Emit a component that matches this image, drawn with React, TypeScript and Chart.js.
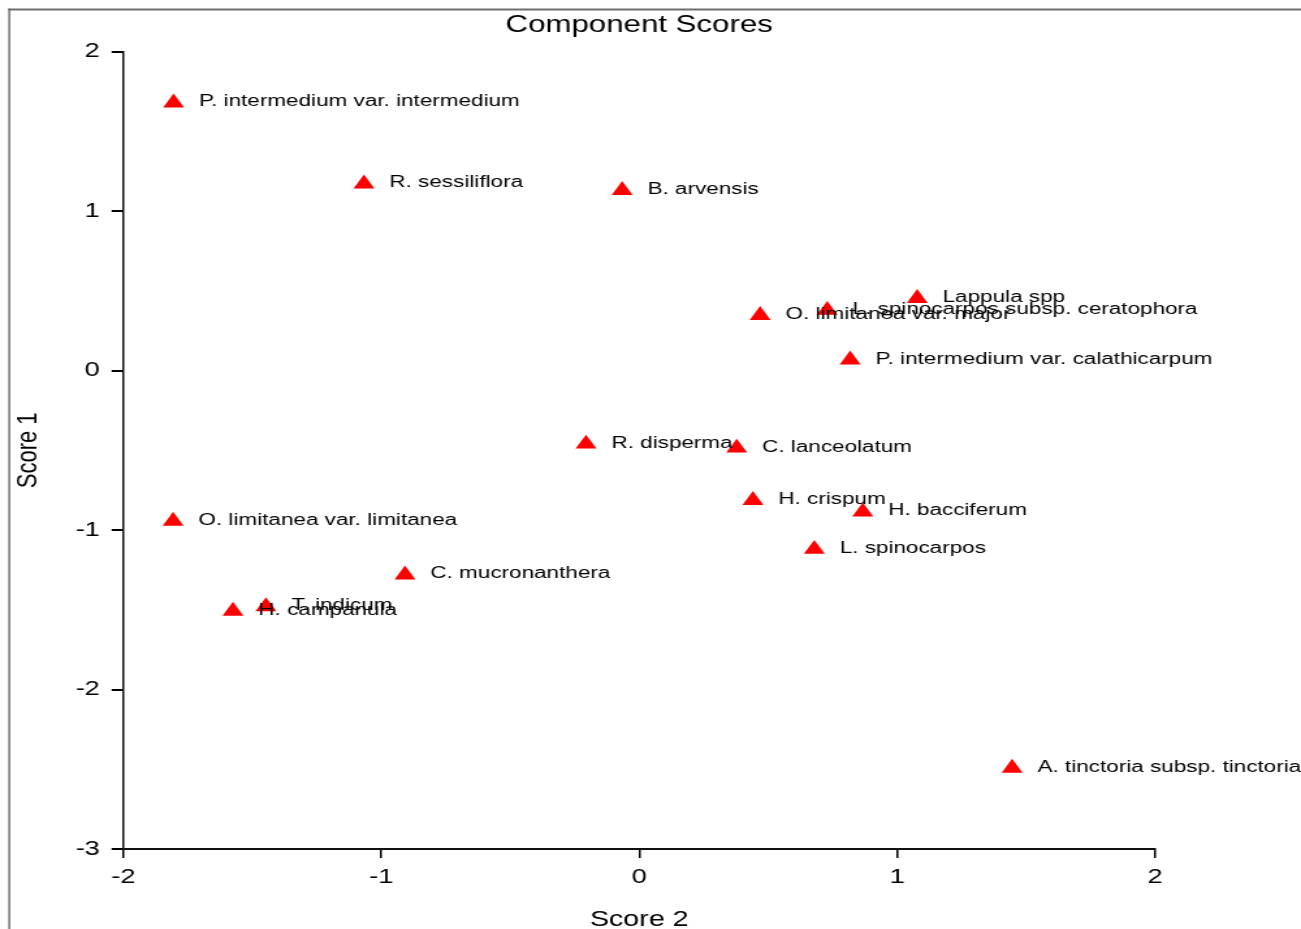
import React, { useEffect, useRef } from 'react';
import { Chart, registerables } from 'chart.js';

Chart.register(...registerables);

// ---- Data ----
const speciesNames = [
  'P. intermedium var. intermedium',
  'R. sessiliflora',
  'B. arvensis',
  'Lappula spp',
  'L. spinocarpos subsp. ceratophora',
  'O. limitanea var. major',
  'P. intermedium var. calathicarpum',
  'R. disperma',
  'C. lanceolatum',
  'H. crispum',
  'H. bacciferum',
  'L. spinocarpos',
  'O. limitanea var. limitanea',
  'C. mucronanthera',
  'T. indicum',
  'H. campanula',
  'A. tinctoria subsp. tinctoria',
];
const score2Values = [
  -1.805, -1.067, -0.066, 1.078, 0.729, 0.469, 0.818, -0.206, 0.378, 0.441, 0.867, 0.679,
  -1.807, -0.908, -1.447, -1.575, 1.446,
];
const score1Values = [
  1.68, 1.172, 1.131, 0.454, 0.379, 0.347, 0.068, -0.46, -0.485, -0.814, -0.885, -1.12,
  -0.944, -1.28, -1.48, -1.508, -2.493,
];
const xTickValues = [-2, -1, 0, 1, 2];
const xTickLabels = ['-2', '-1', '0', '1', '2'];
const yTickValues = [-3, -2, -1, 0, 1, 2];
const yTickLabels = ['-3', '-2', '-1', '0', '1', '2'];

const CANVAS_W = 1000;
const CANVAS_H = 929;
const DISPLAY_W = 1301;
const FONT = '"Liberation Sans", Arial, Helvetica, sans-serif';

const framePlugin = {
  id: 'frame',
  beforeDraw(chart: any) {
    const ctx = chart.ctx;
    ctx.save();
    ctx.fillStyle = '#ffffff';
    ctx.fillRect(0, 0, chart.width, chart.height);
    ctx.strokeStyle = '#6e6e6e';
    ctx.lineWidth = 2;
    ctx.beginPath();
    ctx.moveTo(6.4, 9.5);
    ctx.lineTo(chart.width, 9.5);
    ctx.stroke();
    ctx.lineWidth = 1.5;
    ctx.beginPath();
    ctx.moveTo(7.15, 8.5);
    ctx.lineTo(7.15, chart.height);
    ctx.stroke();
    ctx.restore();
  },
};

const pointLabelPlugin = {
  id: 'pointLabels',
  afterDatasetsDraw(chart: any) {
    const meta = chart.getDatasetMeta(0);
    const ctx = chart.ctx;
    ctx.save();
    ctx.font = `17.3px ${FONT}`;
    ctx.fillStyle = '#000000';
    ctx.textAlign = 'left';
    ctx.textBaseline = 'middle';
    meta.data.forEach((el: any, i: number) => {
      ctx.fillText(speciesNames[i], el.x + 19.5, el.y - 1.0);
    });
    ctx.restore();
  },
};

export default function App() {
  const canvasRef = useRef<HTMLCanvasElement | null>(null);

  useEffect(() => {
    if (!canvasRef.current) return;
    const chart = new Chart(canvasRef.current, {
      type: 'scatter',
      data: {
        datasets: [
          {
            label: 'Component Scores',
            data: score2Values.map((x, i) => ({ x, y: score1Values[i] })),
            pointStyle: 'triangle',
            pointRadius: 9.3,
            pointHoverRadius: 9.3,
            backgroundColor: '#ff0000',
            borderColor: '#ff0000',
            borderWidth: 0,
            clip: false as any,
          },
        ],
      },
      options: {
        responsive: false,
        animation: false,
        devicePixelRatio: 1,
        layout: { padding: { left: 0, right: 112.2, top: 0, bottom: 0 } },
        events: [],
        plugins: {
          legend: { display: false },
          tooltip: { enabled: false },
          title: {
            display: true,
            text: 'Component Scores',
            fullSize: false,
            color: '#000000',
            font: { family: FONT, size: 24, weight: 'normal' as any, lineHeight: 1.2 },
            padding: { top: 11, bottom: 11.9 },
          },
        },
        scales: {
          x: {
            type: 'linear',
            position: 'bottom',
            min: -2,
            max: 2,
            afterBuildTicks: (scale: any) => {
              scale.ticks = xTickValues.map((v) => ({ value: v }));
            },
            afterFit: (scale: any) => {
              scale.height = 80;
            },
            ticks: {
              autoSkip: false,
              maxRotation: 0,
              padding: 7,
              color: '#000000',
              font: { family: FONT, size: 21 },
              callback: (_v: any, i: number) => xTickLabels[i],
            },
            grid: {
              display: true,
              drawOnChartArea: false,
              drawTicks: true,
              tickLength: 9,
              color: '#000000',
              lineWidth: 1.5,
            },
            border: { display: true, color: '#111111', width: 2 },
            title: {
              display: true,
              text: 'Score 2',
              color: '#000000',
              font: { family: FONT, size: 22, lineHeight: 0.8 },
              padding: 0,
            },
          },
          y: {
            type: 'linear',
            position: 'left',
            min: -3,
            max: 2,
            afterBuildTicks: (scale: any) => {
              scale.ticks = yTickValues.map((v) => ({ value: v }));
            },
            afterFit: (scale: any) => {
              scale.width = 94.8;
            },
            ticks: {
              autoSkip: false,
              padding: 9,
              color: '#000000',
              font: { family: FONT, size: 21 },
              callback: (_v: any, i: number) => yTickLabels[i],
            },
            grid: {
              display: true,
              drawOnChartArea: false,
              drawTicks: true,
              tickLength: 9,
              color: '#000000',
              lineWidth: 2,
            },
            border: { display: true, color: '#111111', width: 1.5 },
            title: {
              display: true,
              text: 'Score 1',
              color: '#000000',
              font: { family: FONT, size: 22, lineHeight: 1.2 },
              padding: { top: 9, bottom: 0 },
            },
          },
        },
      },
      plugins: [framePlugin, pointLabelPlugin],
    });
    return () => chart.destroy();
  }, []);

  return (
    <div style={{ position: 'absolute', left: 0, top: 0, width: DISPLAY_W, height: CANVAS_H }}>
      <canvas
        ref={canvasRef}
        width={CANVAS_W}
        height={CANVAS_H}
        style={{ width: `${DISPLAY_W}px`, height: `${CANVAS_H}px`, display: 'block' }}
      />
    </div>
  );
}
